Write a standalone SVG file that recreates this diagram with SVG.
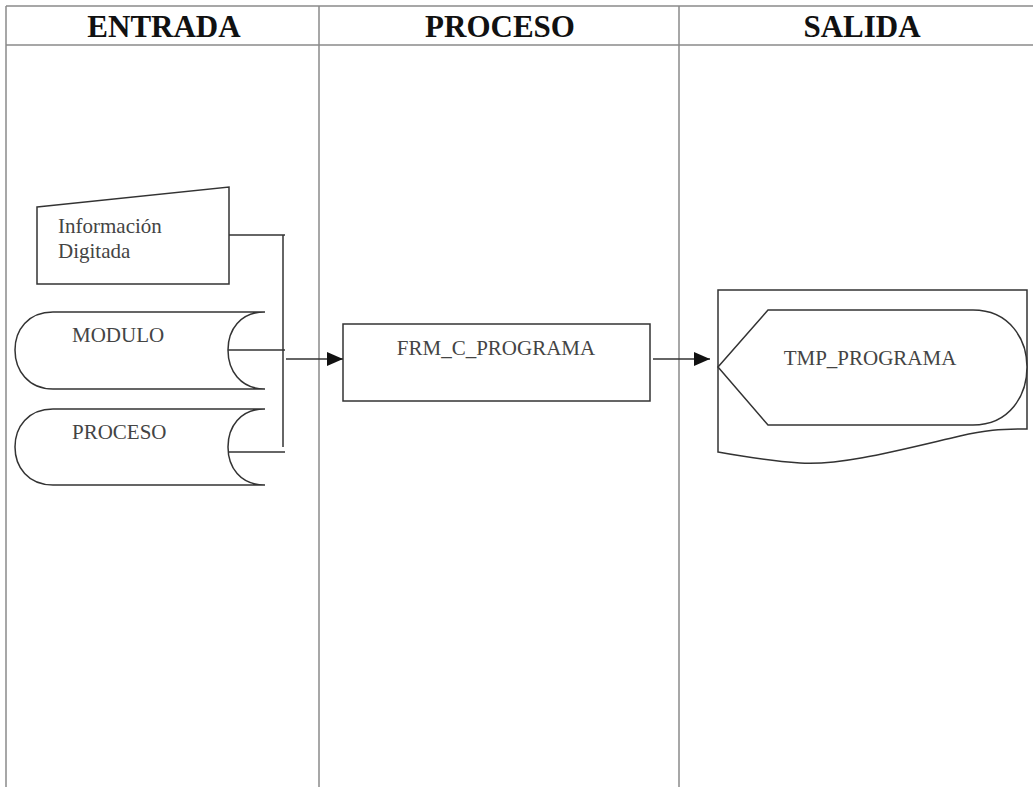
<svg xmlns="http://www.w3.org/2000/svg" width="1033" height="787" viewBox="0 0 1033 787">
<style>
.grid{stroke:#8a8a8a;stroke-width:1.5;fill:none}
.hdr{font-family:"Liberation Serif",serif;font-weight:bold;font-size:31px;fill:#111;text-anchor:middle}
.shape{fill:#fff;stroke:#333;stroke-width:1.5}
.lbl{font-family:"Liberation Serif",serif;font-size:21px;fill:#444}
.mid{text-anchor:middle}
.conn{stroke:#333;stroke-width:1.5;fill:none}
</style>
<defs>
<marker id="arr" viewBox="0 0 16 14" refX="16" refY="7" markerWidth="16" markerHeight="14" markerUnits="userSpaceOnUse" orient="auto">
<path d="M0 0 L16 7 L0 14 Z" fill="#111"/>
</marker>
</defs>
<rect width="1033" height="787" fill="#fff"/>
<g id="lanes">
<line class="grid" x1="6" y1="6" x2="1033" y2="6"/>
<line class="grid" x1="6" y1="45" x2="1033" y2="45"/>
<line class="grid" x1="6" y1="6" x2="6" y2="787"/>
<line class="grid" x1="319" y1="6" x2="319" y2="787"/>
<line class="grid" x1="679" y1="6" x2="679" y2="787"/>
<text class="hdr" x="164" y="37">ENTRADA</text>
<text class="hdr" x="500" y="37">PROCESO</text>
<text class="hdr" x="862" y="37">SALIDA</text>
</g>
<g id="info">
<path class="shape" d="M37 207 L229 187 L229 284 L37 284 Z"/>
<text class="lbl" x="58" y="233">Información</text>
<text class="lbl" x="58" y="258">Digitada</text>
</g>
<g id="modulo">
<path class="shape" d="M53 312 L265 312 C240 312 228 330 228 350 C228 370 240 389 265 389 L53 389 C28 389 15 370 15 350 C15 330 28 312 53 312 Z"/>
<text class="lbl" x="72" y="342">MODULO</text>
</g>
<g id="proceso">
<path class="shape" d="M53 409 L265 409 C240 409 228 427 228 447 C228 467 240 485 265 485 L53 485 C28 485 15 467 15 447 C15 427 28 409 53 409 Z"/>
<text class="lbl" x="72" y="439">PROCESO</text>
</g>
<g id="frm">
<rect class="shape" x="343" y="324" width="307" height="77"/>
<text class="lbl mid" x="496" y="355">FRM_C_PROGRAMA</text>
</g>
<g id="tmp">
<path class="shape" d="M718 290 L1027 290 L1027 429 C1000 429 985 430 960 436 C900 450 840 466 800 463 C770 461 740 456 718 452 Z"/>
<path class="shape" d="M718 367 L768 310 L973 310 C1010 310 1027 340 1027 367 C1027 395 1010 425 973 425 L768 425 Z"/>
<text class="lbl mid" x="870" y="365">TMP_PROGRAMA</text>
</g>
<g id="connectors">
<line class="conn" x1="229" y1="235" x2="285" y2="235"/>
<line class="conn" x1="283" y1="235" x2="283" y2="447"/>
<line class="conn" x1="228" y1="350" x2="285" y2="350"/>
<line class="conn" x1="228" y1="452" x2="285" y2="452"/>
<line class="conn" x1="286" y1="359" x2="343" y2="359" marker-end="url(#arr)"/>
<line class="conn" x1="653" y1="359" x2="710" y2="359" marker-end="url(#arr)"/>
</g>
</svg>
